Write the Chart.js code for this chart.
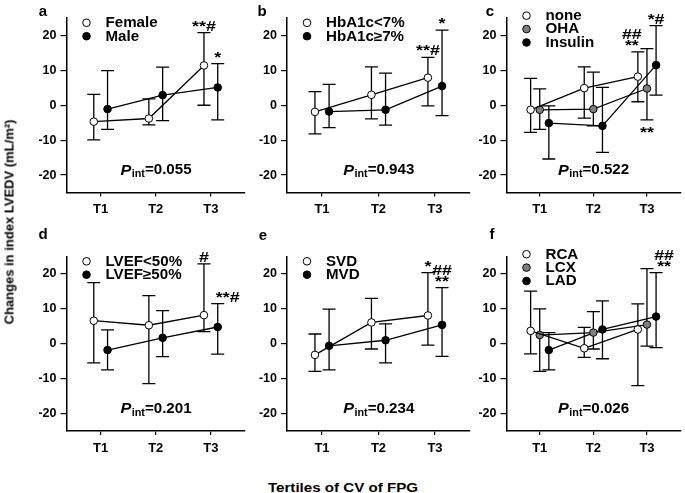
<!DOCTYPE html>
<html>
<head>
<meta charset="utf-8">
<script src="https://cdn.jsdelivr.net/npm/chart.js@4.4.1/dist/chart.umd.min.js"></script>
<style>
  body { margin: 0; background: #fff; }
  #fig { position: relative; width: 685px; height: 493px; overflow: hidden; font-family: 'Liberation Sans', Arial, sans-serif; }
  #fig canvas { position: absolute; }
  .ytitle { position: absolute; left: 9px; top: 222px; transform: translate(-50%, -50%) rotate(-90deg); font-weight: bold; font-size: 13px; white-space: nowrap; }
  .xtitle { position: absolute; left: 343px; top: 487px; transform: translate(-50%, -50%) scaleX(1.12); font-weight: bold; font-size: 13.5px; white-space: nowrap; }
</style>
</head>
<body>
<div id="fig">
  <canvas id="pa"></canvas><canvas id="pb"></canvas><canvas id="pc"></canvas>
  <canvas id="pd"></canvas><canvas id="pe"></canvas><canvas id="pf"></canvas>
  <div class="ytitle">Changes in index LVEDV (mL/m²)</div>
  <div class="xtitle">Tertiles of CV of FPG</div>
</div>
<script>
// ---- data (means and [lower, upper] error bars, per tertile) ----
const tertiles = ['T1', 'T2', 'T3'];
const yTicks = [-20, -10, 0, 10, 20];
const pInt = ['0.055', '0.943', '0.522', '0.201', '0.234', '0.026'];

// a: sex
const femaleMean = [-4.7, -3.8, 11.4];
const femaleErr = [[-9.9, 3.1], [-5.6, 1.8], [0.0, 20.8]];
const maleMean = [-1.1, 2.9, 5.1];
const maleErr = [[-6.9, 9.9], [-4.4, 10.9], [-4.2, 11.9]];

// b: HbA1c
const hbLowMean = [-1.9, 3.0, 7.9];
const hbLowErr = [[-8.2, 3.9], [-3.9, 11.0], [-0.2, 13.7]];
const hbHighMean = [-1.8, -1.3, 5.5];
const hbHighErr = [[-6.4, 6.0], [-5.7, 9.2], [-3.0, 21.5]];

// c: treatment
const noneMean = [-1.3, 4.9, 8.2];
const noneErr = [[-7.8, 7.7], [-3.7, 11.0], [1.0, 15.3]];
const ohaMean = [-1.3, -1.1, 4.8];
const ohaErr = [[-6.9, 4.7], [-5.9, 9.5], [-4.2, 16.2]];
const insulinMean = [-5.1, -5.9, 11.5];
const insulinErr = [[-15.4, -0.2], [-13.5, 5.1], [2.9, 22.8]];

// d: LVEF
const lvefLowMean = [6.6, 5.3, 8.2];
const lvefLowErr = [[-5.5, 17.5], [-11.4, 13.8], [3.5, 22.9]];
const lvefHighMean = [-1.8, 1.7, 4.8];
const lvefHighErr = [[-7.5, 4.0], [-3.7, 9.5], [-3.0, 11.5]];

// e: vessel disease
const svdMean = [-3.2, 6.1, 8.1];
const svdErr = [[-7.9, 2.8], [-1.5, 13.0], [-0.4, 20.4]];
const mvdMean = [-0.6, 1.0, 5.4];
const mvdErr = [[-7.5, 9.9], [-5.5, 5.7], [-3.6, 16.1]];

// f: culprit artery
const rcaMean = [3.7, -1.3, 4.1];
const rcaErr = [[-2.9, 15.1], [-3.9, 4.7], [-12.0, 11.4]];
const lcxMean = [2.5, 3.2, 5.5];
const lcxErr = [[-7.9, 10.0], [-1.5, 9.2], [-0.7, 21.5]];
const ladMean = [-1.8, 4.1, 7.8];
const ladErr = [[-7.5, 3.2], [-4.3, 12.3], [-1.1, 20.4]];

const OPEN = '#ffffff', GREY = '#7f7f7f', FILLED = '#000000';
const FONT = "'Liberation Sans', Arial, sans-serif";

// canvas box [left, top, width, height], plot box [left, top, right, bottom] in page px
const panels = [
  { id: 'pa', letter: 'a', letterXY: [43, 12], box: [0, 0, 250, 222], plot: [66.5, 18, 245, 192.5],
    series: [{ label: 'Female', mean: femaleMean, err: femaleErr, fill: OPEN },
             { label: 'Male', mean: maleMean, err: maleErr, fill: FILLED }],
    notes: [[0, 2, ['**#'], 'above', 0], [1, 2, ['*'], 'above', 0]] },
  { id: 'pb', letter: 'b', letterXY: [262, 12], box: [250, 0, 225, 222], plot: [287, 18, 470, 192.5],
    series: [{ label: 'HbA1c<7%', mean: hbLowMean, err: hbLowErr, fill: OPEN },
             { label: 'HbA1c≥7%', mean: hbHighMean, err: hbHighErr, fill: FILLED }],
    notes: [[0, 2, ['**#'], 'above', 0], [1, 2, ['*'], 'above', 0]] },
  { id: 'pc', letter: 'c', letterXY: [490, 12], box: [475, 0, 210, 222], plot: [506.5, 18, 685, 192.5],
    series: [{ label: 'none', mean: noneMean, err: noneErr, fill: OPEN },
             { label: 'OHA', mean: ohaMean, err: ohaErr, fill: GREY },
             { label: 'Insulin', mean: insulinMean, err: insulinErr, fill: FILLED }],
    notes: [[0, 2, ['##', '**'], 'above', -6], [2, 2, ['*#'], 'above', 0], [1, 2, ['**'], 'below', 0]] },
  { id: 'pd', letter: 'd', letterXY: [43, 235], box: [0, 225, 250, 237], plot: [66.5, 256.5, 245, 431],
    series: [{ label: 'LVEF<50%', mean: lvefLowMean, err: lvefLowErr, fill: OPEN },
             { label: 'LVEF≥50%', mean: lvefHighMean, err: lvefHighErr, fill: FILLED }],
    notes: [[0, 2, ['#'], 'above', 0], [1, 2, ['**#'], 'above', 10]] },
  { id: 'pe', letter: 'e', letterXY: [263, 236], box: [250, 225, 225, 237], plot: [287, 256.5, 470, 431],
    series: [{ label: 'SVD', mean: svdMean, err: svdErr, fill: OPEN },
             { label: 'MVD', mean: mvdMean, err: mvdErr, fill: FILLED }],
    notes: [[0, 2, ['*'], 'above', 0], [1, 2, ['##', '**'], 'above', 0]] },
  { id: 'pf', letter: 'f', letterXY: [492, 235], box: [475, 225, 210, 237], plot: [506.5, 256.5, 685, 431],
    series: [{ label: 'RCA', mean: rcaMean, err: rcaErr, fill: OPEN },
             { label: 'LCX', mean: lcxMean, err: lcxErr, fill: GREY },
             { label: 'LAD', mean: ladMean, err: ladErr, fill: FILLED }],
    notes: [[2, 2, ['##', '**'], 'above', 8]] },
];

Chart.defaults.font.family = FONT;
Chart.defaults.color = '#000';

function drawMarker(ctx, x, y, fill) {
  ctx.beginPath();
  ctx.arc(x, y, 3.8, 0, Math.PI * 2);
  ctx.fillStyle = fill;
  ctx.fill();
  ctx.lineWidth = 1;
  ctx.strokeStyle = '#000';
  ctx.stroke();
}

// the source figure's lettering is a little wider than Arial, so stretch it a bit
function wideText(ctx, text, x, y, sx) {
  ctx.save();
  ctx.translate(x, y);
  ctx.scale(sx, 1);
  ctx.fillText(text, 0, 0);
  ctx.restore();
}

// error bars under the lines and markers
const errorBars = {
  id: 'errorBars',
  beforeDatasetsDraw(chart) {
    const { ctx, scales: { x, y } } = chart;
    ctx.save();
    ctx.strokeStyle = '#000';
    ctx.lineWidth = 1.3;
    chart.data.datasets.forEach((ds) => {
      ds.data.forEach((pt, i) => {
        const px = x.getPixelForValue(pt.x);
        const lo = y.getPixelForValue(ds.err[i][0]);
        const hi = y.getPixelForValue(ds.err[i][1]);
        ctx.beginPath();
        ctx.moveTo(px, lo); ctx.lineTo(px, hi);
        ctx.moveTo(px - 6.5, lo); ctx.lineTo(px + 6.5, lo);
        ctx.moveTo(px - 6.5, hi); ctx.lineTo(px + 6.5, hi);
        ctx.stroke();
      });
    });
    ctx.restore();
  },
};

// legend, significance marks, P_int and panel letter
const decorations = {
  id: 'decorations',
  afterDraw(chart, args, opts) {
    const { ctx, chartArea: area, scales: { x, y } } = chart;
    const p = opts.panel;
    ctx.save();
    ctx.fillStyle = '#000';

    // legend
    const startY = area.top + (p.series.length === 3 ? -2.3 : 4.8);
    p.series.forEach((s, k) => {
      const ly = startY + k * 13.4;
      drawMarker(ctx, area.left + 20, ly, s.fill);
      ctx.fillStyle = '#000';
      ctx.font = `bold 14px ${FONT}`;
      ctx.textAlign = 'left';
      ctx.textBaseline = 'middle';
      wideText(ctx, s.label, area.left + 39, ly + 0.5, 1.08);
    });

    // significance marks
    ctx.font = `bold 15.5px ${FONT}`;
    ctx.textAlign = 'center';
    ctx.textBaseline = 'alphabetic';
    p.notes.forEach(([si, ti, lines, side, dx]) => {
      const ds = chart.data.datasets[si];
      const px = x.getPixelForValue(ds.data[ti].x) + dx;
      if (side === 'above') {
        const base = y.getPixelForValue(ds.err[ti][1]) - 2;
        lines.slice().reverse().forEach((t, j) => wideText(ctx, t, px, base - j * 11, 1.15));
      } else {
        const base = y.getPixelForValue(ds.err[ti][0]) + 17;
        lines.forEach((t, j) => wideText(ctx, t, px, base + j * 11, 1.15));
      }
    });

    // P_int
    const cx = (area.left + area.right) / 2;
    const cy = y.getPixelForValue(-18.7);
    const sx = 1.08;
    const parts = [
      { t: 'P', f: `italic bold 15px ${FONT}`, dy: 0 },
      { t: 'int', f: `bold 10px ${FONT}`, dy: 4 },
      { t: '=' + pInt[opts.index], f: `bold 14px ${FONT}`, dy: 0 },
    ];
    let total = 0;
    parts.forEach((pt) => { ctx.font = pt.f; pt.w = ctx.measureText(pt.t).width * sx; total += pt.w; });
    let tx = cx - total / 2;
    ctx.textAlign = 'left';
    ctx.textBaseline = 'middle';
    parts.forEach((pt) => { ctx.font = pt.f; wideText(ctx, pt.t, tx, cy + pt.dy, sx); tx += pt.w + (pt.t === 'P' ? 0.5 : 0); });

    // panel letter
    ctx.font = `bold 15px ${FONT}`;
    ctx.textAlign = 'center';
    ctx.fillText(p.letter, p.letterXY[0] - p.box[0], p.letterXY[1] - p.box[1]);
    ctx.restore();
  },
};

panels.forEach((p, index) => {
  const [bl, bt, bw, bh] = p.box;
  const [pl, pt, pr, pb] = p.plot;
  const el = document.getElementById(p.id);
  el.width = bw; el.height = bh;
  el.style.left = bl + 'px'; el.style.top = bt + 'px';

  const n = p.series.length;
  const dodge = n === 2 ? [-0.125, 0.125] : [-0.17, 0, 0.17];
  const datasets = p.series.map((s, k) => ({
    label: s.label,
    data: s.mean.map((v, i) => ({ x: i + 1 + dodge[k], y: v })),
    err: s.err,
    showLine: true,
    borderColor: '#000', borderWidth: 1.3,
    pointRadius: 3.8, pointHoverRadius: 3.8,
    pointBackgroundColor: s.fill, pointBorderColor: '#000', pointBorderWidth: 1,
  }));

  new Chart(el.getContext('2d'), {
    type: 'scatter',
    data: { datasets },
    plugins: [errorBars, decorations],
    options: {
      responsive: false, animation: false, events: [],
      layout: { padding: { left: 0, top: pt - bt, right: bl + bw - pr, bottom: 0 } },
      plugins: {
        legend: { display: false }, tooltip: { enabled: false },
        decorations: { panel: p, index },
      },
      scales: {
        x: {
          type: 'linear', min: 0.38, max: 3.62,
          afterBuildTicks: (s) => { s.ticks = tertiles.map((_, i) => ({ value: i + 1 })); },
          afterFit: (s) => { s.height = bt + bh - pb; },
          grid: { drawOnChartArea: false, drawTicks: true, tickLength: 4, color: '#000', lineWidth: 1.2 },
          border: { display: true, color: '#000', width: 1.5 },
          ticks: { autoSkip: false, maxRotation: 0, padding: 5.5, color: '#000',
                   font: { size: 13, weight: 'bold' }, callback: (v) => tertiles[v - 1] },
        },
        y: {
          min: -25, max: 25,
          afterBuildTicks: (s) => { s.ticks = yTicks.map((v) => ({ value: v })); },
          afterFit: (s) => { s.width = pl - bl; },
          grid: { drawOnChartArea: false, drawTicks: true, tickLength: 6, color: '#000', lineWidth: 1.2 },
          border: { display: true, color: '#000', width: 1.5 },
          ticks: { padding: 4, color: '#000', font: { size: 12.5, weight: 'bold' } },
        },
      },
    },
  });
});
</script>
</body>
</html>
